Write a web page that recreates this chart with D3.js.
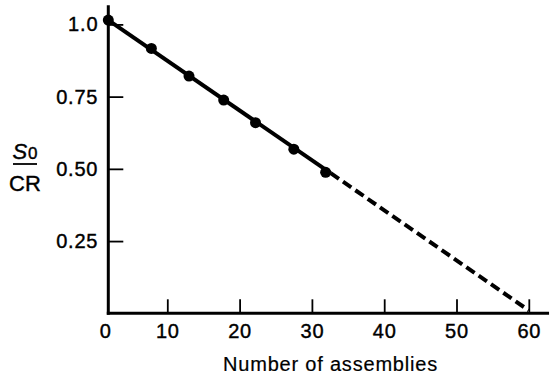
<!DOCTYPE html>
<html>
<head>
<meta charset="utf-8">
<script src="https://cdn.jsdelivr.net/npm/d3@7/dist/d3.min.js"></script>
<style>
  html, body { margin: 0; padding: 0; background: #fff; }
  svg { display: block; font-family: "Liberation Sans", Arial, sans-serif; }
  svg text { stroke: #000; stroke-width: 0.4px; }
  svg text.xlabel { stroke-width: 0.2px; }
</style>
</head>
<body>
<svg id="chart" width="551" height="377"></svg>
<script>
// ---- data ----
const xTickValues = [0, 10, 20, 30, 40, 50, 60];
const xTickLabels = ["0", "10", "20", "30", "40", "50", "60"];
const yTickValues = [0.25, 0.5, 0.75, 1.0];
const yTickLabels = ["0.25", "0.50", "0.75", "1.0"];
const assemblies = [0, 7.3, 13.0, 17.8, 22.2, 27.5, 31.9];
const ratio = [1.015, 0.917, 0.821, 0.738, 0.660, 0.568, 0.488];
const solidX = [0, 32.6];
const solidY = [1.015, 0.485];
const dashX = [32.6, 60];
const dashY = [0.485, 0.01];
const xLabel = "Number of assemblies";

// ---- scales ----
const svg = d3.select("#chart");
const x = d3.scaleLinear().domain([0, 10, 60]).range([108.3, 167.3, 528.8]);
const y = d3.scaleLinear().domain([0, 1]).range([313.3, 24.4]);
const xMax = 62.8, yMax = 1.066;

// ---- axes ----
const xAxis = d3.axisBottom(x)
  .tickValues(xTickValues)
  .tickFormat((d, i) => xTickLabels[i])
  .tickSizeInner(-14).tickSizeOuter(0).tickPadding(10);
const gx = svg.append("g").attr("transform", `translate(0,${y(0)})`).call(xAxis);
gx.select(".domain").remove();
gx.selectAll(".tick line").attr("stroke", "#000").attr("stroke-width", 1.8)
  .filter(d => d === 0).remove();
gx.selectAll(".tick text").attr("fill", "#000").attr("font-size", 20)
  .attr("letter-spacing", 0.8).attr("dy", "0.74em")
  .attr("dx", d => d === 0 ? -3 : 0);

const yAxis = d3.axisLeft(y)
  .tickValues(yTickValues)
  .tickFormat((d, i) => yTickLabels[i])
  .tickSizeInner(-15).tickSizeOuter(0).tickPadding(10);
const gy = svg.append("g").attr("transform", `translate(${x(0)},0)`).call(yAxis);
gy.select(".domain").remove();
gy.selectAll(".tick line").attr("stroke", "#000").attr("stroke-width", 1.8);
gy.selectAll(".tick text").attr("fill", "#000").attr("font-size", 20)
  .attr("letter-spacing", 0.8);

// axis lines
svg.append("line").attr("x1", x(0)).attr("x2", x(0)).attr("y1", y(0) + 1.5).attr("y2", y(yMax))
  .attr("stroke", "#000").attr("stroke-width", 3);
svg.append("line").attr("x1", x(0) - 1.5).attr("x2", x(xMax)).attr("y1", y(0)).attr("y2", y(0))
  .attr("stroke", "#000").attr("stroke-width", 3);

// ---- lines ----
const line = d3.line().x(d => x(d[0])).y(d => y(d[1]));
svg.append("path").datum(solidX.map((v, i) => [v, solidY[i]]))
  .attr("d", line).attr("fill", "none").attr("stroke", "#000").attr("stroke-width", 4);
svg.append("path").datum(dashX.map((v, i) => [v, dashY[i]]))
  .attr("d", line).attr("fill", "none").attr("stroke", "#000").attr("stroke-width", 4)
  .attr("stroke-dasharray", "10,5");

// ---- points ----
svg.append("g").selectAll("circle").data(assemblies.map((v, i) => [v, ratio[i]]))
  .join("circle").attr("cx", d => x(d[0])).attr("cy", d => y(d[1])).attr("r", 5.5).attr("fill", "#000");

// ---- labels ----
svg.append("text").attr("class", "xlabel").attr("x", 330.5).attr("y", 370.5).attr("text-anchor", "middle")
  .attr("font-size", 20).attr("letter-spacing", 0.8).attr("fill", "#000").text(xLabel);

const yl = svg.append("g").attr("transform", "translate(25,0)");
const num = yl.append("text").attr("x", 0).attr("y", 158.5).attr("text-anchor", "middle")
  .attr("font-size", 22).attr("fill", "#000");
num.append("tspan").attr("font-style", "italic").text("S");
num.append("tspan").attr("font-size", 17).attr("dx", 1).text("0");
yl.append("line").attr("x1", -12).attr("x2", 12).attr("y1", 164).attr("y2", 164)
  .attr("stroke", "#000").attr("stroke-width", 1.8);
yl.append("text").attr("x", 0).attr("y", 191).attr("text-anchor", "middle")
  .attr("font-size", 22).attr("fill", "#000").text("CR");
</script>
</body>
</html>
